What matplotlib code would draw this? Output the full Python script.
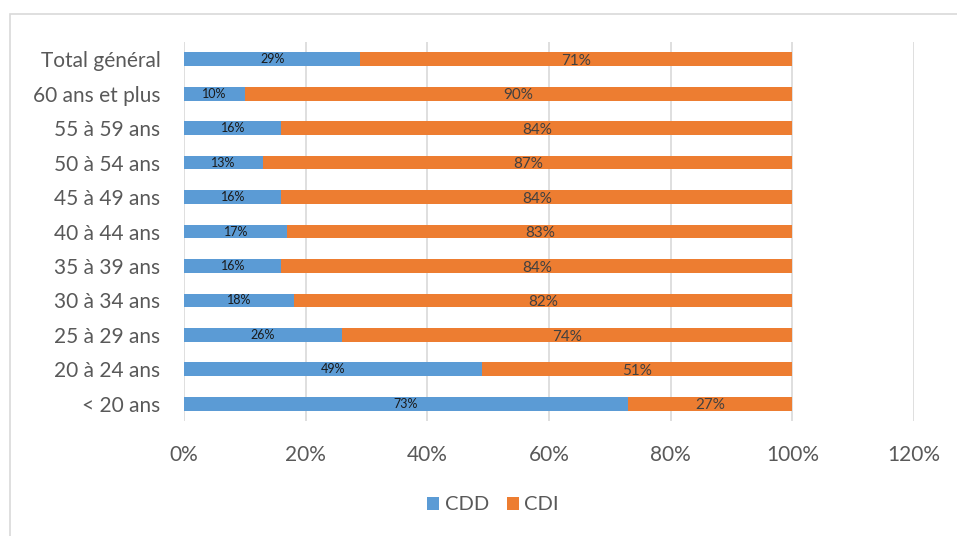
import matplotlib
matplotlib.use("Agg")
import matplotlib.pyplot as plt
from matplotlib.patches import Rectangle
import numpy as np

plt.rcParams["font.family"] = ["Lato", "DejaVu Sans"]

# age groups, bottom to top as drawn
groups = ["< 20 ans", "20 à 24 ans", "25 à 29 ans", "30 à 34 ans", "35 à 39 ans",
          "40 à 44 ans", "45 à 49 ans", "50 à 54 ans", "55 à 59 ans",
          "60 ans et plus", "Total général"]
cdd = [73, 49, 26, 18, 16, 17, 16, 13, 16, 10, 29]
cdi = [27, 51, 74, 82, 84, 83, 84, 87, 84, 90, 71]
xticks = [0, 20, 40, 60, 80, 100, 120]

BLUE = "#5b9bd5"
ORANGE = "#ed7d31"
GRID = "#d9d9d9"
TXT = "#595959"

fig = plt.figure(figsize=(9.57, 5.36), dpi=100)
fig.patches.append(Rectangle((10 / 957, -0.01), 1.0, 1 - 14 / 536 + 0.01,
                             transform=fig.transFigure, fill=False,
                             edgecolor=GRID, lw=1.2))
ax = fig.add_axes([184 / 957, 1 - 421 / 536, (914 - 184) / 957, (421 - 42) / 536])

y = np.arange(len(groups))
b1 = ax.barh(y, cdd, height=0.4, color=BLUE, label="CDD", zorder=3)
b2 = ax.barh(y, cdi, left=cdd, height=0.4, color=ORANGE, label="CDI", zorder=3)

for yi, a, b in zip(y, cdd, cdi):
    ax.text(a / 2, yi, f"{a}%", ha="center", va="center", fontsize=9,
            color="#1a1a1a", zorder=4)
    ax.text(a + b / 2, yi - 0.05, f"{b}%", ha="center", va="center", fontsize=11,
            color="#404040", zorder=4)

ax.set_xlim(0, 120)
ax.set_ylim(-0.5, len(groups) - 0.5)
ax.set_xticks(xticks)
ax.set_xticklabels([f"{t}%" for t in xticks])
ax.set_yticks(y)
ax.set_yticklabels(groups)
ax.tick_params(axis="both", length=0, labelsize=15, labelcolor=TXT)
ax.tick_params(axis="x", pad=17)
ax.tick_params(axis="y", pad=17)
ax.grid(axis="x", color=GRID, lw=1.2, zorder=0)
for s in ax.spines.values():
    s.set_visible(False)

fig.legend(handles=[b1, b2], loc="center", bbox_to_anchor=(493 / 957, 1 - 505 / 536),
           ncol=2, frameon=False, fontsize=14.5, labelcolor=TXT,
           handlelength=0.6, handleheight=0.6, handletextpad=0.25, columnspacing=0.9)

fig.savefig("out.png", dpi=100)
